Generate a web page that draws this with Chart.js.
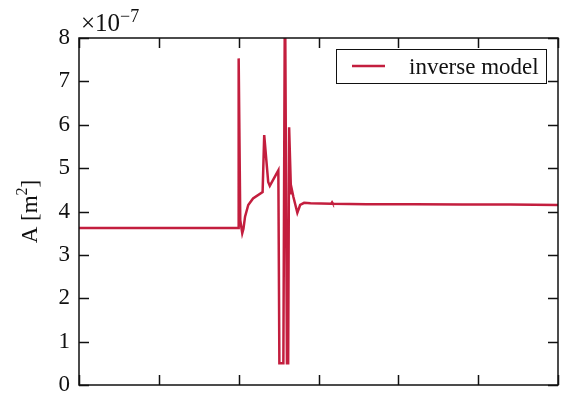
<!DOCTYPE html>
<html>
<head>
<meta charset="utf-8">
<script src="https://cdn.jsdelivr.net/npm/chart.js@4"></script>
<style>
  html, body { margin: 0; padding: 0; background: #fff; }
  #wrap { width: 574px; height: 394px; }
</style>
</head>
<body>
<div id="wrap"><canvas id="areaChart" width="574" height="394"></canvas></div>
<script>
// inverse model, A in units of 1e-7 m^2
const xValues = [0, 1.995, 2.0, 2.02, 2.045, 2.06, 2.08, 2.12, 2.18, 2.30, 2.32, 2.37, 2.39, 2.497,
    2.51, 2.56, 2.58, 2.605, 2.62, 2.632, 2.656, 2.668, 2.685, 2.735, 2.77, 2.82, 2.90,
    3.16, 3.17, 3.18, 3.6, 4.2, 4.8, 5.4, 6.0];
const yValues = [3.62, 3.62, 7.53, 3.8, 3.5, 3.6, 3.88, 4.15, 4.30, 4.45, 5.76, 4.68, 4.59, 4.95,
    0.5, 0.5, 9.5, 0.5, 0.5, 5.94, 4.42, 4.49, 4.34, 3.97, 4.15, 4.20, 4.19,
    4.18, 4.21, 4.18, 4.17, 4.17, 4.16, 4.16, 4.15];
const yTicks = [0, 1, 2, 3, 4, 5, 6, 7, 8];
const xTicks = [0, 1, 2, 3, 4, 5, 6];
const seriesLabel = 'inverse model';
const lineColor = '#c31e3e';
const serif = '"Liberation Serif", "DejaVu Serif", serif';

const points = xValues.map((x, i) => ({ x: x, y: yValues[i] }));

// frame, inward ticks, exponent, y title, legend box
const decorations = {
    id: 'decorations',
    afterDraw(chart) {
        const c = chart.ctx;
        const a = chart.chartArea;
        const xs = chart.scales.x, ys = chart.scales.y;
        c.save();
        c.strokeStyle = '#111';
        c.lineWidth = 1.5;
        c.strokeRect(a.left, a.top, a.right - a.left, a.bottom - a.top);
        c.beginPath();
        xTicks.forEach(t => {
            const px = Math.round(xs.getPixelForValue(t)) + 0.5;
            c.moveTo(px, a.bottom); c.lineTo(px, a.bottom - 10);
            c.moveTo(px, a.top); c.lineTo(px, a.top + 10);
        });
        yTicks.forEach(t => {
            const py = Math.round(ys.getPixelForValue(t)) + 0.5;
            c.moveTo(a.left, py); c.lineTo(a.left + 10, py);
            c.moveTo(a.right, py); c.lineTo(a.right - 10, py);
        });
        c.stroke();

        // exponent
        c.fillStyle = '#111';
        c.textBaseline = 'alphabetic';
        c.textAlign = 'left';
        c.font = '25px ' + serif;
        c.fillText('\u00d710', a.left + 2, 31);
        const w = c.measureText('\u00d710').width;
        c.font = '18px ' + serif;
        c.fillText('\u22127', a.left + 2 + w, 22);

        // y title with superscript
        c.save();
        c.translate(37, (a.top + a.bottom) / 2);
        c.rotate(-Math.PI / 2);
        c.textAlign = 'left';
        c.font = '23px ' + serif;
        const p1 = 'A [m', p3 = ']';
        const w1 = c.measureText(p1).width, w3 = c.measureText(p3).width;
        c.font = '16px ' + serif;
        const w2 = c.measureText('2').width;
        let x0 = -(w1 + w2 + w3) / 2;
        c.font = '23px ' + serif;
        c.fillText(p1, x0, 0);
        c.font = '16px ' + serif;
        c.fillText('2', x0 + w1, -10);
        c.font = '23px ' + serif;
        c.fillText(p3, x0 + w1 + w2, 0);
        c.restore();

        // legend
        c.fillStyle = '#fff';
        c.fillRect(336.5, 49.5, 210, 34);
        c.strokeStyle = '#111';
        c.lineWidth = 1;
        c.strokeRect(336.5, 49.5, 210, 34);
        c.strokeStyle = lineColor;
        c.lineWidth = 2.5;
        c.beginPath();
        c.moveTo(352, 66); c.lineTo(385, 66);
        c.stroke();
        c.fillStyle = '#111';
        c.font = '23px ' + serif;
        c.textAlign = 'left';
        c.fillText(seriesLabel, 409, 74);
        c.restore();
    }
};

const ctx = document.getElementById('areaChart').getContext('2d');
const areaChart = new Chart(ctx, {
    type: 'line',
    data: {
        datasets: [{
            label: seriesLabel,
            data: points,
            borderColor: lineColor,
            borderWidth: 2.5,
            pointRadius: 0,
            tension: 0,
            fill: false
        }]
    },
    options: {
        responsive: false,
        animation: false,
        layout: { padding: { top: 38, right: 16, left: 0, bottom: 0 } },
        plugins: {
            legend: { display: false },
            tooltip: { enabled: false }
        },
        scales: {
            x: {
                type: 'linear',
                min: 0,
                max: 6,
                grid: { display: false },
                border: { display: false },
                ticks: { display: false },
                afterFit: (scale) => { scale.height = 9; }
            },
            y: {
                type: 'linear',
                min: 0,
                max: 8,
                grid: { display: false, drawTicks: false },
                border: { display: false },
                ticks: {
                    stepSize: 1,
                    padding: 9,
                    color: '#111',
                    font: { family: serif, size: 23 }
                },
                afterFit: (scale) => {
                    scale.width = 79;
                    scale.paddingTop = 0;
                    scale.paddingBottom = 0;
                }
            }
        }
    },
    plugins: [decorations]
});
</script>
</body>
</html>
